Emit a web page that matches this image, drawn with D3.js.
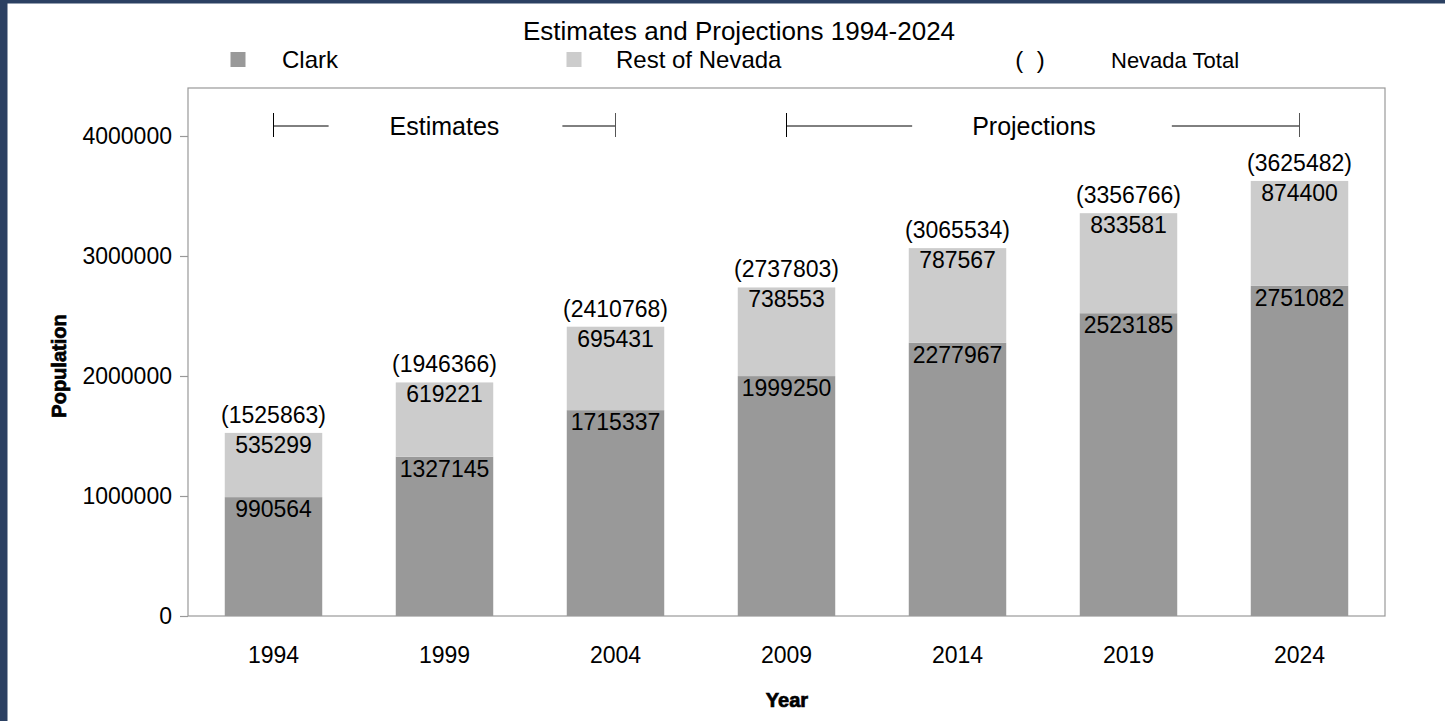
<!DOCTYPE html>
<html>
<head>
<meta charset="utf-8">
<script src="https://cdn.jsdelivr.net/npm/d3@7"></script>
<style>
  html, body { margin: 0; padding: 0; background: #ffffff; }
  svg { display: block; font-family: "Liberation Sans", Arial, sans-serif; }
</style>
</head>
<body>
<svg id="chart" width="1445" height="721"></svg>
<script>
// Nevada population by county group, estimates and projections
const years = ["1994", "1999", "2004", "2009", "2014", "2019", "2024"];
const clark = [990564, 1327145, 1715337, 1999250, 2277967, 2523185, 2751082];
const restOfNevada = [535299, 619221, 695431, 738553, 787567, 833581, 874400];
const nevadaTotal = [1525863, 1946366, 2410768, 2737803, 3065534, 3356766, 3625482];
const yTicks = [0, 1000000, 2000000, 3000000, 4000000];
const seriesNames = ["Clark", "Rest of Nevada"];
const periods = [
  { label: "Estimates", from: "1994", to: "2004", shift: 0, gapL: 61, gapR: 63 },
  { label: "Projections", from: "2009", to: "2024", shift: -9, gapL: 60, gapR: 76 }
];

const svg = d3.select("#chart");
const W = 1445, H = 721;
const plot = { left: 188, right: 1385, top: 88, bottom: 616 };
const colors = { Clark: "#999999", "Rest of Nevada": "#cccccc" };

// page frame
svg.append("rect").attr("x", 0).attr("y", 0).attr("width", W).attr("height", H).attr("fill", "#ffffff");
svg.append("rect").attr("x", 0).attr("y", 0).attr("width", W).attr("height", 3.5).attr("fill", "#2b4062");
svg.append("rect").attr("x", 0).attr("y", 0).attr("width", 7.5).attr("height", H).attr("fill", "#2b4062");

const x = d3.scaleBand().domain(years).range([plot.left, plot.right]).paddingInner(0.43).paddingOuter(0.215);
const y = d3.scaleLinear().domain([0, 4400000]).range([plot.bottom, plot.top]);

// stacked data
const rows = years.map((yr, i) => ({ year: yr, Clark: clark[i], "Rest of Nevada": restOfNevada[i], total: nevadaTotal[i] }));
const stack = d3.stack().keys(seriesNames)(rows);

// plot border
svg.append("rect")
  .attr("x", plot.left).attr("y", plot.top)
  .attr("width", plot.right - plot.left).attr("height", plot.bottom - plot.top)
  .attr("fill", "none").attr("stroke", "#999999").attr("stroke-width", 1.2);

// bars
const layers = svg.append("g").selectAll("g").data(stack).join("g")
  .attr("fill", d => colors[d.key]);
layers.selectAll("rect").data(d => d).join("rect")
  .attr("x", d => x(d.data.year))
  .attr("width", x.bandwidth())
  .attr("y", d => y(d[1]))
  .attr("height", d => y(d[0]) - y(d[1]));

// segment value labels
layers.each(function(layer) {
  d3.select(this).selectAll("text").data(layer).join("text")
    .attr("x", d => x(d.data.year) + x.bandwidth() / 2)
    .attr("y", d => y(d[1]) + 20)
    .attr("text-anchor", "middle")
    .attr("font-size", 23)
    .attr("fill", "#000000")
    .text(d => d[1] - d[0]);
});

// totals above bars
svg.append("g").selectAll("text").data(rows).join("text")
  .attr("x", d => x(d.year) + x.bandwidth() / 2)
  .attr("y", d => y(d.total) - 10)
  .attr("text-anchor", "middle")
  .attr("font-size", 23)
  .attr("fill", "#000000")
  .text(d => "(" + d.total + ")");

// y axis
const yAxis = svg.append("g")
  .attr("transform", `translate(${plot.left},0)`)
  .call(d3.axisLeft(y).tickValues(yTicks).tickFormat(d3.format("d")).tickSize(8).tickPadding(8));
yAxis.select(".domain").remove();
yAxis.selectAll(".tick line").attr("stroke", "#999999").attr("stroke-width", 1.2);
yAxis.selectAll(".tick text").attr("font-size", 23).attr("fill", "#000000")
  .attr("font-family", "'Liberation Sans', Arial, sans-serif");

// x axis labels
const xAxis = svg.append("g")
  .attr("transform", `translate(0,${plot.bottom})`)
  .call(d3.axisBottom(x).tickSize(0).tickPadding(31));
xAxis.select(".domain").remove();
xAxis.selectAll(".tick text").attr("font-size", 23).attr("fill", "#000000")
  .attr("font-family", "'Liberation Sans', Arial, sans-serif");

// axis titles
svg.append("text")
  .attr("transform", "translate(66,366) rotate(-90)")
  .attr("text-anchor", "middle")
  .attr("font-size", 20).attr("font-weight", "bold")
  .attr("stroke", "#000").attr("stroke-width", 0.7)
  .text("Population");
svg.append("text")
  .attr("x", 787).attr("y", 707)
  .attr("text-anchor", "middle")
  .attr("font-size", 20).attr("font-weight", "bold")
  .attr("stroke", "#000").attr("stroke-width", 0.7)
  .text("Year");

// title
svg.append("text")
  .attr("x", 739).attr("y", 40)
  .attr("text-anchor", "middle")
  .attr("font-size", 26)
  .text("Estimates and Projections 1994-2024");

// legend
const legend = [
  { sq: 238, tx: 282, label: "Clark", color: colors.Clark },
  { sq: 574, tx: 616, label: "Rest of Nevada", color: colors["Rest of Nevada"] }
];
legend.forEach(l => {
  svg.append("rect").attr("x", l.sq - 7.5).attr("y", 52).attr("width", 15).attr("height", 15).attr("fill", l.color);
  svg.append("text").attr("x", l.tx).attr("y", 68).attr("font-size", 24).text(l.label);
});
svg.append("text").attr("x", 1030).attr("y", 68).attr("text-anchor", "middle").attr("font-size", 24)
  .attr("xml:space", "preserve").text("(  )");
svg.append("text").attr("x", 1111).attr("y", 68).attr("font-size", 22).text("Nevada Total");

// period brackets
const by = 126;
periods.forEach(p => {
  const x0 = x(p.from) + x.bandwidth() / 2;
  const x1 = x(p.to) + x.bandwidth() / 2;
  const mid = (x0 + x1) / 2 + p.shift;
  const g = svg.append("g").attr("stroke", "#000000").attr("stroke-width", 1);
  const t = svg.append("text").attr("x", mid).attr("y", by + 9).attr("text-anchor", "middle")
    .attr("font-size", 25).text(p.label);
  const tw = t.node().getComputedTextLength();
  g.append("line").attr("x1", x0).attr("x2", mid - tw / 2 - p.gapL).attr("y1", by).attr("y2", by);
  g.append("line").attr("x1", mid + tw / 2 + p.gapR).attr("x2", x1).attr("y1", by).attr("y2", by);
  g.append("line").attr("x1", x0).attr("x2", x0).attr("y1", by - 13).attr("y2", by + 11);
  g.append("line").attr("x1", x1).attr("x2", x1).attr("y1", by - 13).attr("y2", by + 11).attr("stroke", "#555");
});
</script>
</body>
</html>
